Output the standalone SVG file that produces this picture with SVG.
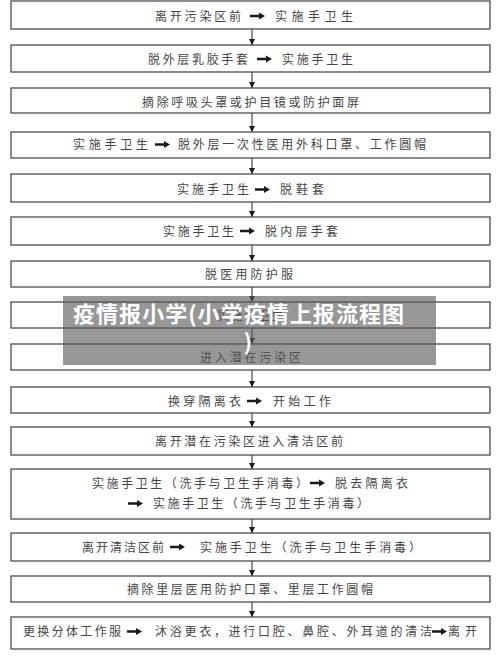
<svg xmlns="http://www.w3.org/2000/svg" xmlns:xlink="http://www.w3.org/1999/xlink" width="500" height="662" viewBox="0 0 500 662">
<style>
.box{fill:#fff;stroke:#3c3c3c;stroke-width:1.2}
.t{font-family:"Noto Sans CJK SC","Noto Sans CJK JP",sans-serif;font-size:12px;fill:#454545}
.conn line{stroke:#222;stroke-width:1}
.wm{font-family:"Noto Sans CJK SC","Noto Sans CJK JP",sans-serif;font-size:22px;font-weight:700;fill:#fff}
</style>
<defs>
<path id="ha" d="M0,-1.3 H9 V-3.6 L15,0 L9,3.6 V1.3 H0 Z" fill="#1a1a1a"/>
<marker id="va" viewBox="0 0 6 6" refX="6" refY="3" markerWidth="6" markerHeight="6" markerUnits="userSpaceOnUse" orient="auto">
<path d="M0,0 L6,3 L0,6 Z" fill="#1a1a1a"/>
</marker>
</defs>
<rect width="500" height="662" fill="#fff"/>
<g class="conn">
<line x1="252" y1="29" x2="252" y2="45" marker-end="url(#va)"/>
<line x1="252" y1="72" x2="252" y2="88" marker-end="url(#va)"/>
<line x1="252" y1="113" x2="252" y2="132" marker-end="url(#va)"/>
<line x1="252" y1="158" x2="252" y2="174" marker-end="url(#va)"/>
<line x1="252" y1="202" x2="252" y2="217" marker-end="url(#va)"/>
<line x1="252" y1="245" x2="252" y2="261" marker-end="url(#va)"/>
<line x1="252" y1="287" x2="252" y2="302" marker-end="url(#va)"/>
<line x1="252" y1="328" x2="252" y2="344" marker-end="url(#va)"/>
<line x1="252" y1="370" x2="252" y2="387" marker-end="url(#va)"/>
<line x1="252" y1="413" x2="252" y2="427" marker-end="url(#va)"/>
<line x1="252" y1="455" x2="252" y2="469" marker-end="url(#va)"/>
<line x1="252" y1="519" x2="252" y2="533" marker-end="url(#va)"/>
<line x1="252" y1="561" x2="252" y2="576" marker-end="url(#va)"/>
<line x1="252" y1="602" x2="252" y2="617" marker-end="url(#va)"/>
</g>
<g id="n1"><rect class="box" x="11" y="1" width="479" height="28"/>
<text class="t" x="155" y="20.5" textLength="86">离开污染区前</text><use xlink:href="#ha" x="250" y="16"/><text class="t" x="275" y="20.5" textLength="78">实施手卫生</text></g>
<g id="n2"><rect class="box" x="11" y="45" width="479" height="27"/>
<text class="t" x="148" y="64" textLength="100">脱外层乳胶手套</text><use xlink:href="#ha" x="257" y="59"/><text class="t" x="282" y="64" textLength="71">实施手卫生</text></g>
<g id="n3"><rect class="box" x="11" y="88" width="479" height="25"/>
<text class="t" x="142" y="107" textLength="217">摘除呼吸头罩或护目镜或防护面屏</text></g>
<g id="n4"><rect class="box" x="11" y="132" width="479" height="26"/>
<text class="t" x="73" y="149" textLength="75">实施手卫生</text><use xlink:href="#ha" x="155" y="144.5"/><text class="t" x="178" y="149" textLength="248">脱外层一次性医用外科口罩、工作圆帽</text></g>
<g id="n5"><rect class="box" x="11" y="174" width="479" height="28"/>
<text class="t" x="177" y="194" textLength="72">实施手卫生</text><use xlink:href="#ha" x="255" y="189.5"/><text class="t" x="280" y="194" textLength="44">脱鞋套</text></g>
<g id="n6"><rect class="box" x="11" y="217" width="479" height="28"/>
<text class="t" x="163" y="236" textLength="71">实施手卫生</text><use xlink:href="#ha" x="240" y="231"/><text class="t" x="265" y="236" textLength="73">脱内层手套</text></g>
<g id="n7"><rect class="box" x="11" y="261" width="479" height="26"/>
<text class="t" x="205" y="279" textLength="88">脱医用防护服</text></g>
<g id="n8"><rect class="box" x="11" y="302" width="479" height="26"/>
<text class="t" x="217" y="320" textLength="66">实施手卫生</text></g>
<g id="n9"><rect class="box" x="11" y="344" width="479" height="26"/>
<text class="t" x="200" y="362" textLength="101">进入潜在污染区</text></g>
<g id="n10"><rect class="box" x="11" y="387" width="479" height="26"/>
<text class="t" x="168" y="405.5" textLength="73">换穿隔离衣</text><use xlink:href="#ha" x="247" y="401"/><text class="t" x="273" y="405.5" textLength="58">开始工作</text></g>
<g id="n11"><rect class="box" x="11" y="427" width="479" height="28"/>
<text class="t" x="155" y="445.5" textLength="188">离开潜在污染区进入清洁区前</text></g>
<g id="n12"><rect class="box" x="11" y="469" width="479" height="50"/>
<text class="t" x="92" y="487.5" textLength="216">实施手卫生（洗手与卫生手消毒）</text><use xlink:href="#ha" x="310" y="483"/><text class="t" x="335" y="487.5" textLength="73">脱去隔离衣</text>
<use xlink:href="#ha" x="128" y="503.5"/><text class="t" x="153" y="508" textLength="216">实施手卫生（洗手与卫生手消毒）</text></g>
<g id="n13"><rect class="box" x="11" y="533" width="479" height="28"/>
<text class="t" x="82" y="551.5" textLength="82">离开清洁区前</text><use xlink:href="#ha" x="170" y="547"/><text class="t" x="200" y="551.5" textLength="221">实施手卫生（洗手与卫生手消毒）</text></g>
<g id="n14"><rect class="box" x="11" y="576" width="479" height="26"/>
<text class="t" x="127" y="594" textLength="246">摘除里层医用防护口罩、里层工作圆帽</text></g>
<g id="n15"><rect class="box" x="11" y="617" width="479" height="32"/>
<text class="t" x="23" y="636" textLength="98">更换分体工作服</text><use xlink:href="#ha" x="127" y="631.5"/><text class="t" x="155" y="636" textLength="277">沐浴更衣，进行口腔、鼻腔、外耳道的清洁</text><use xlink:href="#ha" x="432" y="631.5"/><text class="t" x="448" y="636" textLength="29">离开</text></g>
<g id="watermark">
<rect x="63" y="296" width="373" height="69" fill="#5a5a5a" fill-opacity="0.63"/>
<text class="wm" x="73" y="322" textLength="331">疫情报小学(小学疫情上报流程图</text>
<text class="wm" x="248" y="350" text-anchor="middle">)</text>
</g>
</svg>
